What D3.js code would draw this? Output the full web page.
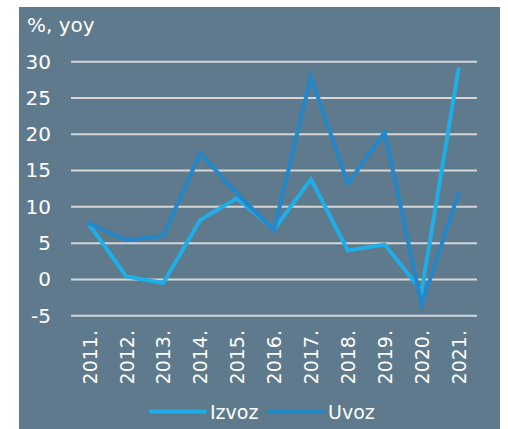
<!DOCTYPE html>
<html>
<head>
<meta charset="utf-8">
<script src="https://cdn.jsdelivr.net/npm/d3@7"></script>
<style>
  body { margin: 0; background: #fff; }
  text { font-family: "DejaVu Sans", sans-serif; fill: #fff; }
</style>
</head>
<body>
<div id="chart"></div>
<script>
const years = ["2011.", "2012.", "2013.", "2014.", "2015.", "2016.", "2017.", "2018.", "2019.", "2020.", "2021."];
const izvoz = [7.5, 0.4, -0.5, 8.2, 11.2, 6.9, 13.8, 4.0, 4.8, -1.6, 29.0];
const uvoz = [7.7, 5.4, 6.0, 17.4, 11.8, 6.8, 27.9, 13.2, 20.3, -3.5, 11.9];
const yTicks = [-5, 0, 5, 10, 15, 20, 25, 30];
const seriesNames = ["Izvoz", "Uvoz"];
const colors = ["#1eaee8", "#2487c9"];

const W = 508, H = 429;
const svg = d3.select("#chart")
    .append("svg")
    .attr("width", W)
    .attr("height", H);

// panel background
svg.append("rect")
    .attr("x", 19).attr("y", 7)
    .attr("width", 481).attr("height", H - 7)
    .attr("fill", "#5e7a8c");

const x = d3.scalePoint()
    .domain(years)
    .range([71, 477])
    .padding(0.5);

const y = d3.scaleLinear()
    .domain([-5, 30])
    .range([315.7, 61.7]);

// gridlines
svg.append("g")
    .selectAll("line")
    .data(yTicks)
    .enter()
    .append("line")
    .attr("x1", 71).attr("x2", 477)
    .attr("y1", d => y(d)).attr("y2", d => y(d))
    .attr("stroke", "#d6d6d6")
    .attr("stroke-width", 2);

// y axis labels
const yAxis = svg.append("g")
    .attr("transform", "translate(51,0)")
    .call(d3.axisLeft(y).tickValues(yTicks).tickSize(0).tickPadding(0)
        .tickFormat(d => String(d)));
yAxis.select(".domain").remove();
yAxis.selectAll("text")
    .attr("font-size", "20px")
    .attr("fill", "#fff")
    .style("font-family", "'DejaVu Sans', sans-serif");

// x axis labels (rotated)
const xAxis = svg.append("g")
    .attr("transform", "translate(0,330)")
    .call(d3.axisBottom(x).tickSize(0).tickPadding(0));
xAxis.select(".domain").remove();
xAxis.selectAll("text")
    .attr("font-size", "19px")
    .attr("fill", "#fff")
    .style("font-family", "'DejaVu Sans', sans-serif")
    .attr("text-anchor", "end")
    .attr("transform", "rotate(-90)")
    .attr("x", 0)
    .attr("y", 0)
    .attr("dx", 0)
    .attr("dy", "0.35em");

// unit label
svg.append("text")
    .attr("x", 27)
    .attr("y", 32)
    .attr("font-size", "20px")
    .text("%, yoy");

// lines
const line = d3.line()
    .x((d, i) => x(years[i]))
    .y(d => y(d));

[izvoz, uvoz].forEach((s, k) => {
    svg.append("path")
        .datum(s)
        .attr("d", line)
        .attr("fill", "none")
        .attr("stroke", colors[k])
        .attr("stroke-width", 4)
        .attr("stroke-linejoin", "miter")
        .attr("stroke-linecap", "round");
});

// legend
const legendX = [151, 269];
seriesNames.forEach((name, k) => {
    svg.append("line")
        .attr("x1", legendX[k]).attr("x2", legendX[k] + 54)
        .attr("y1", 411.5).attr("y2", 411.5)
        .attr("stroke", colors[k])
        .attr("stroke-width", 4)
        .attr("stroke-linecap", "round");
    svg.append("text")
        .attr("x", legendX[k] + 59)
        .attr("y", 419)
        .attr("font-size", "19px")
        .text(name);
});
</script>
</body>
</html>
